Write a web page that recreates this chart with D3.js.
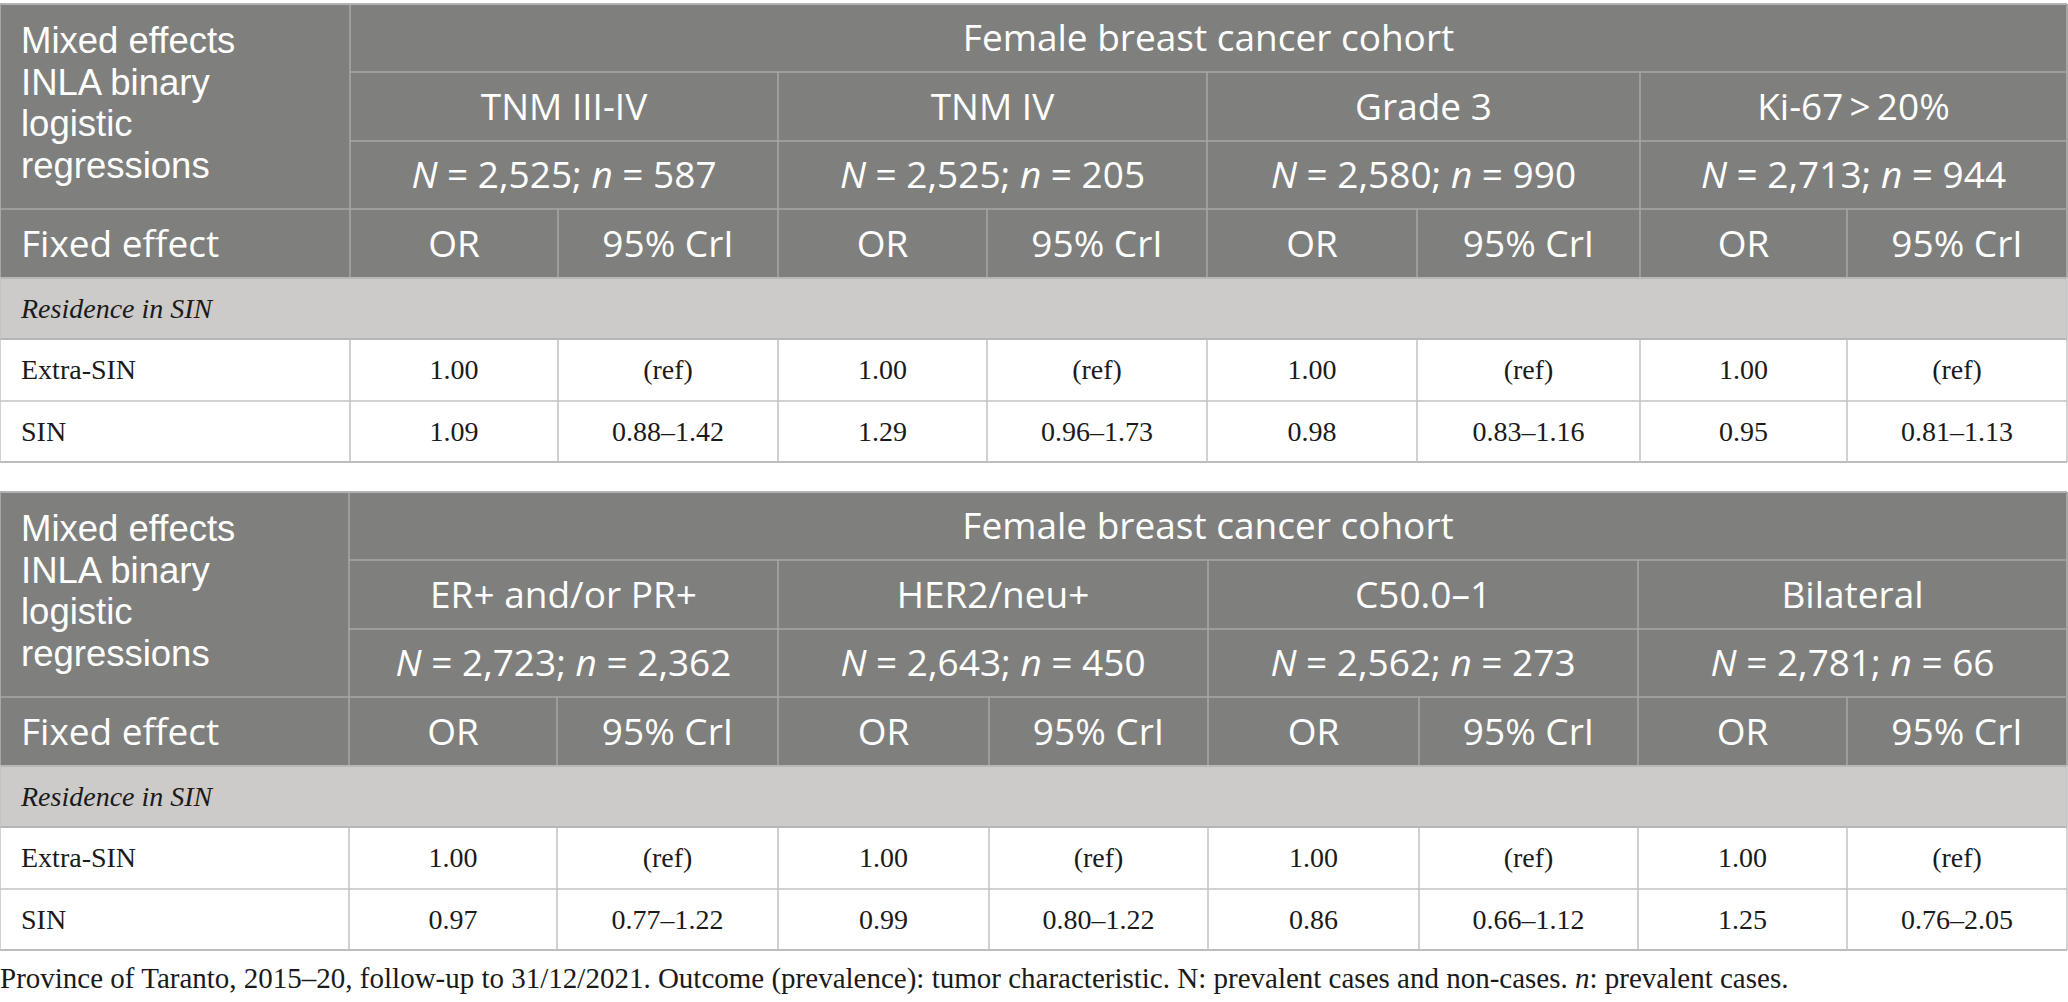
<!DOCTYPE html>
<html>
<head>
<meta charset="utf-8">
<script src="https://cdn.jsdelivr.net/npm/d3@7"></script>
<style>
  html, body { margin: 0; padding: 0; background: #ffffff; }
  svg { display: block; }
</style>
</head>
<body>
<svg id="chart" width="2068" height="1002"></svg>
<script>
// ---------------- DATA ----------------
const cohortTitle = "Female breast cancer cohort";
const leftHeaderLines = ["Mixed effects", "INLA binary", "logistic", "regressions"];
const fixedEffectLabel = "Fixed effect";
const statLabels = ["OR", "95% CrI"];
const groupLabel = "Residence in SIN";
const rowLabels = ["Extra-SIN", "SIN"];

// Table 1
const t1Outcomes = ["TNM III-IV", "TNM IV", "Grade 3", "Ki-67\u2009>\u200920%"];
const t1BigN = [2525, 2525, 2580, 2713];
const t1SmallN = [587, 205, 990, 944];
const t1OrSin = [1.09, 1.29, 0.98, 0.95];
const t1CrILow = [0.88, 0.96, 0.83, 0.81];
const t1CrIHigh = [1.42, 1.73, 1.16, 1.13];

// Table 2
const t2Outcomes = ["ER+ and/or PR+", "HER2/neu+", "C50.0\u20131", "Bilateral"];
const t2BigN = [2723, 2643, 2562, 2781];
const t2SmallN = [2362, 450, 273, 66];
const t2OrSin = [0.97, 0.99, 0.86, 1.25];
const t2CrILow = [0.77, 0.80, 0.66, 0.76];
const t2CrIHigh = [1.22, 1.22, 1.12, 2.05];

const refOR = 1.00;
const refLabel = "(ref)";

const footnoteParts = [
  {t: "Province of Taranto, 2015\u201320, follow-up to 31/12/2021. Outcome (prevalence): tumor characteristic. N: prevalent cases and non-cases. ", i: false},
  {t: "n", i: true},
  {t: ": prevalent cases.", i: false}
];

// ---------------- LAYOUT ----------------
const svg = d3.select("#chart");
const HEADER_BG = "#7f807e";
const HEADER_LINE = "#a7a8a6";
const GROUP_BG = "#cccbc9";
const BODY_LINE = "#c2c2c2";
const SANS = "'Open Sans', 'Noto Sans', sans-serif";
const SANS_TIGHT = "'Liberation Sans', Arial, sans-serif";
const SERIF = "'Liberation Serif', 'DejaVu Serif', serif";
const HFS = 37;   // header font size
const LFS = 36.5; // left stacked header font size
const BFS = 28;   // body font size
const FFS = 29;   // footnote font size

const fmtN = d3.format(",");
const fmt2 = d3.format(".2f");

const tables = [
  {top: 4, edges: [0, 350, 558, 778, 987, 1207, 1417, 1640, 1847, 2067],
   outcomes: t1Outcomes, bigN: t1BigN, smallN: t1SmallN, or: t1OrSin, lo: t1CrILow, hi: t1CrIHigh},
  {top: 492, edges: [0, 349, 557, 778, 989, 1208, 1419, 1638, 1847, 2067],
   outcomes: t2Outcomes, bigN: t2BigN, smallN: t2SmallN, or: t2OrSin, lo: t2CrILow, hi: t2CrIHigh}
];
// row heights: cohort, outcome, N/n, fixed effect, group, extra-SIN, SIN
const rowHeights = [68, 69, 68, 69, 61, 62, 61];

tables.forEach(tb => {
  const g = svg.append("g");
  // column scale: column index -> x edge
  const x = d3.scaleLinear().domain(d3.range(tb.edges.length)).range(tb.edges);
  const rowEdges = [tb.top];
  rowHeights.forEach(h => rowEdges.push(rowEdges[rowEdges.length - 1] + h));
  const y = d3.scaleLinear().domain(d3.range(rowEdges.length)).range(rowEdges);
  const nOut = tb.outcomes.length;

  // backgrounds
  g.append("rect").attr("x", x(0)).attr("y", y(0)).attr("width", x(9) - x(0)).attr("height", y(4) - y(0))
    .attr("fill", HEADER_BG);
  g.append("rect").attr("x", x(0)).attr("y", y(4)).attr("width", x(9) - x(0)).attr("height", y(5) - y(4))
    .attr("fill", GROUP_BG);
  g.append("rect").attr("x", x(0)).attr("y", y(5)).attr("width", x(9) - x(0)).attr("height", y(7) - y(5))
    .attr("fill", "#ffffff");

  const line = (x1, y1, x2, y2, c, w) => g.append("line")
    .attr("x1", x1).attr("y1", y1).attr("x2", x2).attr("y2", y2)
    .attr("stroke", c).attr("stroke-width", w || 1.5);

  // header grid lines
  line(x(1), y(0), x(1), y(4), HEADER_LINE);
  line(x(1), y(1), x(9), y(1), HEADER_LINE);
  line(x(1), y(2), x(9), y(2), HEADER_LINE);
  line(x(0), y(3), x(9), y(3), HEADER_LINE);
  d3.range(nOut).forEach(k => {
    const c0 = 1 + 2 * k;
    if (k > 0) line(x(c0), y(1), x(c0), y(4), HEADER_LINE);
    line(x(c0 + 1), y(3), x(c0 + 1), y(4), HEADER_LINE);
  });
  // outer border of header
  line(x(0), y(0), x(9), y(0), "#b3b3b3", 2);
  line(x(9), y(0), x(9), y(4), HEADER_LINE, 2);
  line(x(0), y(0), x(0), y(4), HEADER_LINE, 2);

  // body grid lines
  line(x(0), y(4), x(9), y(4), "#b8b8b8", 2);
  line(x(0), y(5), x(9), y(5), "#b5b5b5", 2);
  line(x(0), y(6), x(9), y(6), BODY_LINE);
  line(x(0), y(7), x(9), y(7), "#bdbdbd", 2);
  line(x(0), y(4), x(0), y(7), BODY_LINE);
  line(x(9), y(4), x(9), y(7), BODY_LINE);
  d3.range(1, 9).forEach(c => line(x(c), y(5), x(c), y(7), BODY_LINE));

  const hText = (tx, ty, str, anchor) => g.append("text")
    .attr("x", tx).attr("y", ty).attr("text-anchor", anchor || "middle")
    .attr("font-family", SANS).attr("font-size", HFS).attr("fill", "#ffffff").text(str);
  const mid = (a, b) => (a + b) / 2;
  const hBase = r => mid(y(r), y(r + 1)) + HFS * 0.36;
  const bBase = r => mid(y(r), y(r + 1)) + BFS * 0.33;

  // left header: stacked lines (tight-metric sans so the line boxes do not collide)
  leftHeaderLines.forEach((s, i) => g.append("text")
    .attr("x", 21).attr("y", y(0) + 49 + i * 41.5)
    .attr("font-family", SANS_TIGHT).attr("font-size", LFS).attr("fill", "#ffffff").text(s));
  hText(21, hBase(3), fixedEffectLabel, "start");

  // cohort title
  hText(mid(x(1), x(9)), hBase(0), cohortTitle);

  d3.range(nOut).forEach(k => {
    const c0 = 1 + 2 * k;
    const cx = mid(x(c0), x(c0 + 2));
    hText(cx, hBase(1), tb.outcomes[k]);
    const t = g.append("text").attr("x", cx).attr("y", hBase(2)).attr("text-anchor", "middle")
      .attr("font-family", SANS).attr("font-size", HFS).attr("fill", "#ffffff");
    t.append("tspan").attr("font-style", "italic").text("N");
    t.append("tspan").text(" = " + fmtN(tb.bigN[k]) + "; ");
    t.append("tspan").attr("font-style", "italic").text("n");
    t.append("tspan").text(" = " + fmtN(tb.smallN[k]));
    statLabels.forEach((s, j) => hText(mid(x(c0 + j), x(c0 + j + 1)), hBase(3), s));

    // body values
    const bText = (col, r, str) => g.append("text")
      .attr("x", mid(x(col), x(col + 1))).attr("y", bBase(r)).attr("text-anchor", "middle")
      .attr("font-family", SERIF).attr("font-size", BFS).attr("fill", "#1a1a1a").text(str);
    bText(c0, 5, fmt2(refOR));
    bText(c0 + 1, 5, refLabel);
    bText(c0, 6, fmt2(tb.or[k]));
    bText(c0 + 1, 6, fmt2(tb.lo[k]) + "\u2013" + fmt2(tb.hi[k]));
  });

  // group label and row labels
  g.append("text").attr("x", 21).attr("y", bBase(4)).attr("font-family", SERIF)
    .attr("font-style", "italic").attr("font-size", BFS).attr("fill", "#1a1a1a").text(groupLabel);
  rowLabels.forEach((s, i) => g.append("text").attr("x", 21).attr("y", bBase(5 + i))
    .attr("font-family", SERIF).attr("font-size", BFS).attr("fill", "#1a1a1a").text(s));
});

// footnote
const fn = svg.append("text").attr("x", 0).attr("y", 988)
  .attr("font-family", SERIF).attr("font-size", FFS).attr("fill", "#1a1a1a");
footnoteParts.forEach(p => fn.append("tspan").attr("font-style", p.i ? "italic" : null).text(p.t));
</script>
</body>
</html>
